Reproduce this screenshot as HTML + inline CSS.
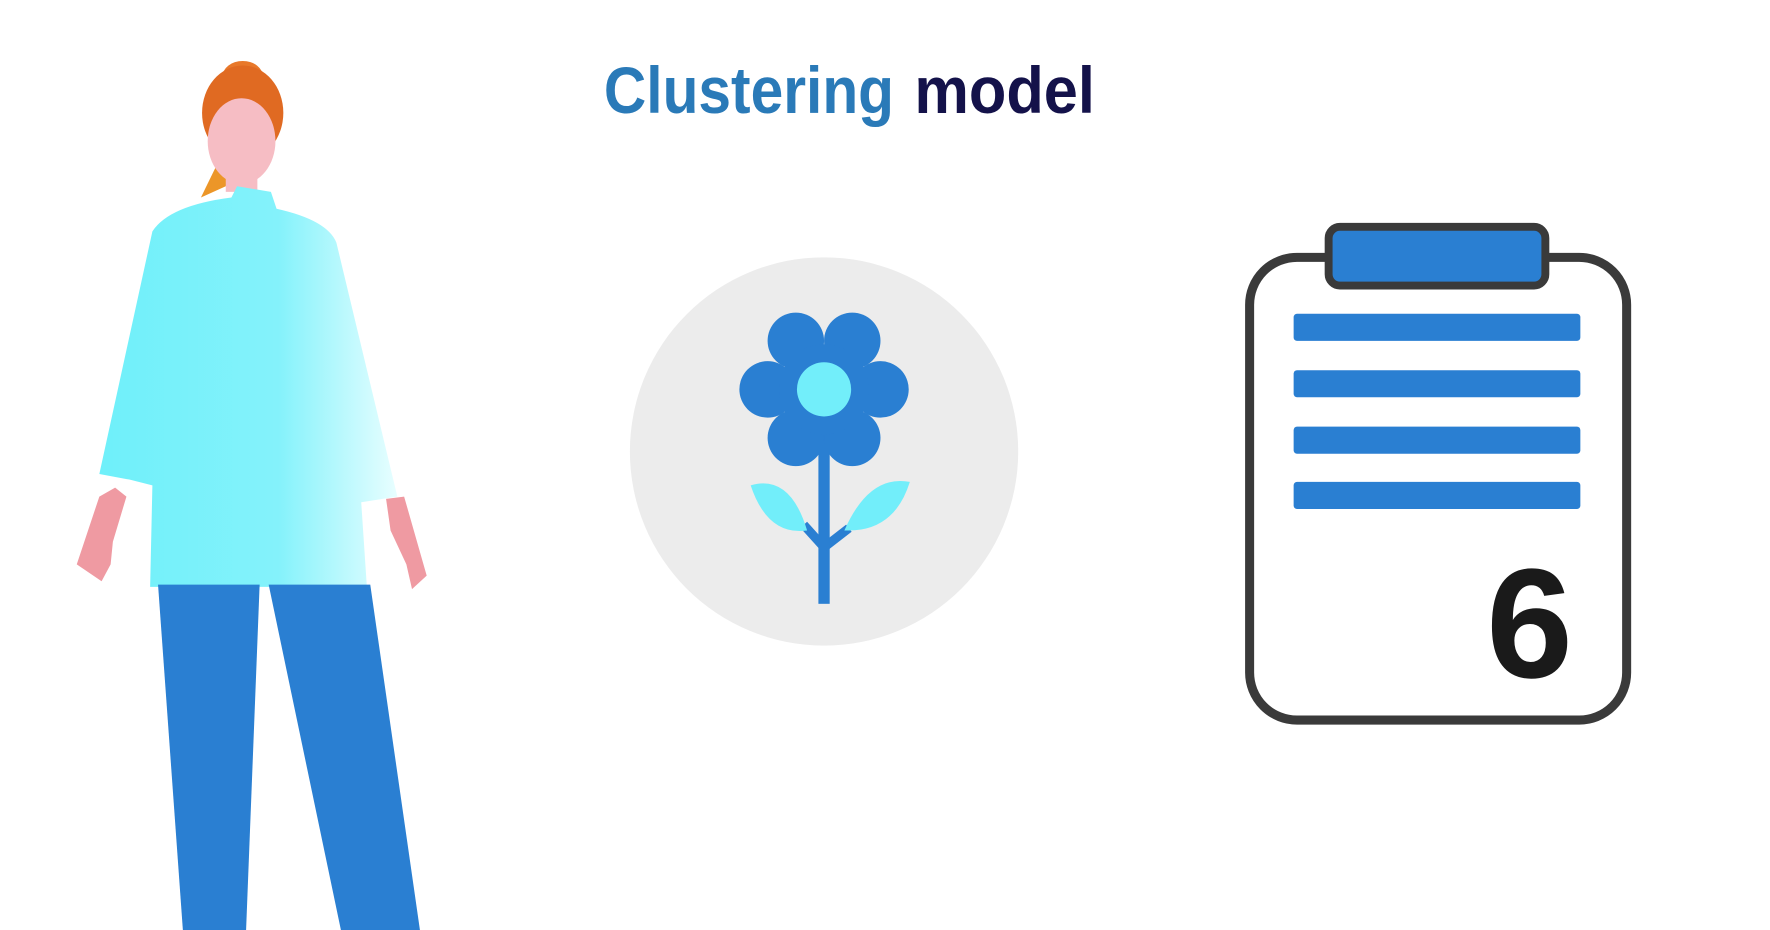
<!DOCTYPE html>
<html><head><meta charset="utf-8"><style>html,body{margin:0;padding:0;background:#fff;overflow:hidden}svg{display:block}</style></head>
<body>
<svg width="1770" height="930" viewBox="0 0 1568 824" preserveAspectRatio="none" xmlns="http://www.w3.org/2000/svg">
<defs>
<linearGradient id="sw" x1="0" x2="1" y1="0" y2="0">
<stop offset="0" stop-color="#6ff0fa"/><stop offset="0.6" stop-color="#84f2fb"/><stop offset="1" stop-color="#e8feff"/>
</linearGradient>
</defs>
<rect width="1568" height="824" fill="#fff"/>
<text x="535" y="100" font-family="Liberation Sans, sans-serif" font-weight="bold" font-size="58" fill="#2a7ab8" textLength="257" lengthAdjust="spacingAndGlyphs">Clustering</text>
<text x="810" y="100" font-family="Liberation Sans, sans-serif" font-weight="bold" font-size="58" fill="#14124a" textLength="160" lengthAdjust="spacingAndGlyphs">model</text>

<!-- woman -->
<path d="M178 175 Q195 140 205 120 L215 125 L200 165 Z" fill="#ec9628"/>
<ellipse cx="215" cy="68" rx="18" ry="14" fill="#e8782a"/>
<ellipse cx="215" cy="100" rx="36" ry="42" fill="#e06a22"/>
<ellipse cx="214" cy="125" rx="30" ry="38" fill="#f6bdc4"/>
<rect x="200" y="150" width="28" height="20" fill="#f6bdc4"/>
<path d="M68 500 L88 440 L102 432 L112 440 L100 480 L98 500 L90 515 Z" fill="#ef9aa2"/>
<path d="M378 510 L358 440 L342 442 L346 470 L360 500 L365 522 Z" fill="#ef9aa2"/>
<path d="M135 205 Q150 182 205 175 L210 165 L240 170 L245 185 Q290 195 298 215 L352 440 L320 445 L325 520 L133 520 L135 430 L115 425 L88 420 Z" fill="url(#sw)"/>
<path d="M140 518 L230 518 L218 824 L162 824 Z" fill="#2a7fd2"/>
<path d="M238 518 L328 518 L372 824 L302 824 Z" fill="#2a7fd2"/>

<!-- circle and flower -->
<circle cx="730" cy="400" r="172" fill="#ececec"/>
<rect x="725" y="385" width="10" height="150" fill="#2a7fd2"/>
<path d="M730 485 L712 465" stroke="#2a7fd2" stroke-width="8"/>
<path d="M730 485 L752 468" stroke="#2a7fd2" stroke-width="8"/>
<path d="M665 430 Q700 420 715 470 Q680 475 665 430 Z" fill="#72eefa"/>
<path d="M806 427 Q770 420 748 470 Q792 472 806 427 Z" fill="#72eefa"/>
<g fill="#2a7fd2">
<circle cx="705" cy="302" r="25"/><circle cx="755" cy="302" r="25"/>
<circle cx="680" cy="345" r="25"/><circle cx="780" cy="345" r="25"/>
<circle cx="705" cy="388" r="25"/><circle cx="755" cy="388" r="25"/>
<circle cx="730" cy="345" r="40"/>
</g>
<circle cx="730" cy="345" r="24" fill="#72eefa"/>

<!-- clipboard -->
<rect x="1107" y="228" width="334" height="410" rx="42" fill="#fff" stroke="#3a3a3a" stroke-width="8"/>
<rect x="1177" y="201" width="192" height="52" rx="10" fill="#2a7fd2" stroke="#3a3a3a" stroke-width="7"/>
<g fill="#2a7fd2">
<rect x="1146" y="278" width="254" height="24" rx="3"/>
<rect x="1146" y="328" width="254" height="24" rx="3"/>
<rect x="1146" y="378" width="254" height="24" rx="3"/>
<rect x="1146" y="427" width="254" height="24" rx="3"/>
</g>
<text x="1355" y="600" text-anchor="middle" font-family="Liberation Sans, sans-serif" font-weight="bold" font-size="138" fill="#1a1a1a">6</text>
</svg>
</body></html>
